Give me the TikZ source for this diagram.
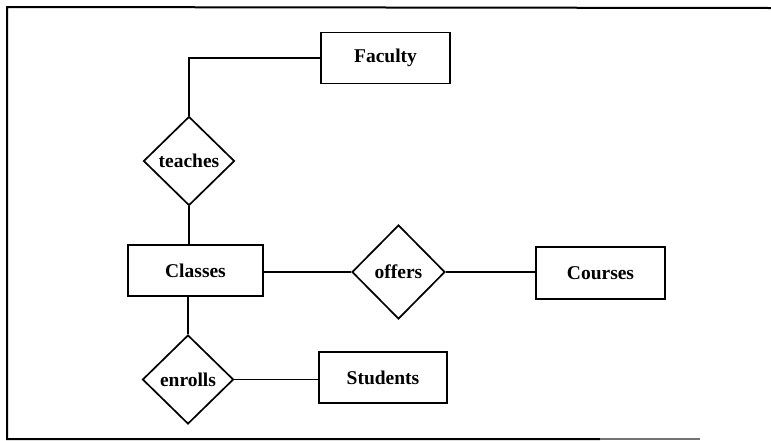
\documentclass[tikz,border=0pt]{standalone}
\usepackage{fontspec}
\setmainfont{Liberation Serif}
\usepackage{tikz}
\usetikzlibrary{positioning, shapes.geometric, calc}

\begin{document}
\begin{tikzpicture}[
        x=1pt, y=-1pt,
        line width=1.7pt,
        entity/.style={rectangle, draw, minimum width=129pt, minimum height=51pt, inner sep=1pt, font=\fontsize{19.5}{22}\selectfont\bfseries},
        relation/.style={diamond, draw, minimum width=91pt, minimum height=89pt, inner sep=0pt, font=\fontsize{19.5}{22}\selectfont\bfseries},
        link/.style={draw, line width=1.7pt}
      ]
        \useasboundingbox (0,0) rectangle (771,440);

        % Frame round the diagram (right side open, as in the scan)
        \draw[line width=2pt] (771,8) -- (7,7) -- (7,439) -- (600,439);
        \draw[line width=1.2pt, black!55] (600,439) -- (700,439);

        % Entities
        \node[entity] (faculty) at (385.5,58) {Faculty};
        \node[entity, minimum width=135pt] (classes) at (195.5,270.5) {Classes};
        \node[entity, minimum height=52pt] (courses) at (600.5,273) {Courses};
        \node[entity, minimum width=128pt] (students) at (383,377.5) {Students};

        % Relationships
        \node[relation] (teaches) at (189,161) {teaches};
        \node[relation, minimum width=93pt, minimum height=94pt] (offers) at (398.5,272) {offers};
        \node[relation] (enrolls) at (188,379.5) {enrolls};

        % Connectors
        \coordinate (corner) at (teaches.north |- faculty.west);
        \path[link] (faculty.west) -- (corner) -- (teaches.north);
        \path[link] (teaches.south) -- (teaches.south |- classes.north);
        \path[link] (offers.west -| classes.east) -- (offers.west);
        \path[link] (offers.east) -- (offers.east -| courses.west);
        \path[link] (enrolls.north |- classes.south) -- (enrolls.north);
        \path[link] (enrolls.east) -- (enrolls.east -| students.west);

    \end{tikzpicture}
\end{document}
